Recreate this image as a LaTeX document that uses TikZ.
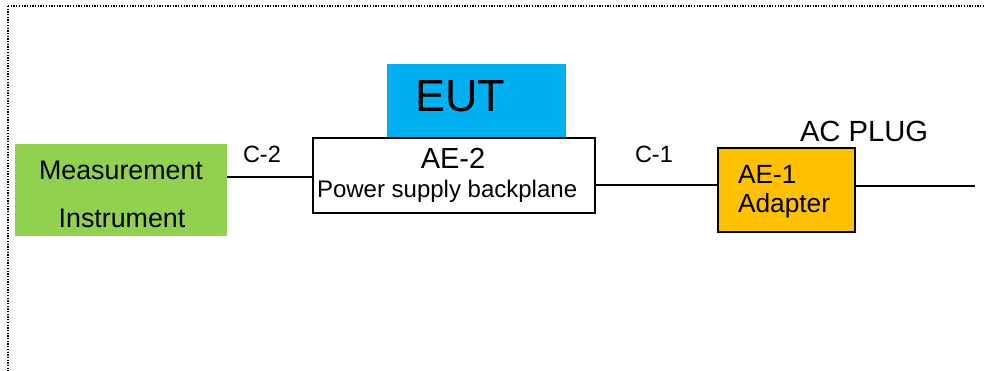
\documentclass[tikz,border=0pt]{standalone}
\usepackage{fontspec}
\setmainfont{Liberation Sans}
\definecolor{instgreen}{HTML}{92D050}
\definecolor{eutblue}{HTML}{00B0F0}
\definecolor{adapterorange}{HTML}{FFC000}
\tikzset{
  frameline/.style={line width=1.4pt, dash pattern=on 1.3pt off 1.4pt, black},
  block/.style={inner sep=0pt, outer sep=0pt, anchor=north west},
  outlined/.style={block, draw=black, line width=1.3pt},
  wire/.style={line width=1.4pt, black},
  txt/.style={inner sep=0pt, outer sep=0pt, anchor=base west},
  ctxt/.style={inner sep=0pt, outer sep=0pt, anchor=base},
}
\newcommand{\fs}[1]{\fontsize{#1}{#1}\selectfont}
\begin{document}
\begin{tikzpicture}[x=1pt,y=-1pt]
  \clip (0,0) rectangle (984,371);
  \fill[white] (0,0) rectangle (984,371);

  % dotted enclosure (extends beyond the page)
  \draw[frameline] (8,6) -- (1010,6);
  \draw[frameline] (8,6) -- (8,400);

  % blocks
  \node[block, fill=instgreen, minimum width=212pt, minimum height=92pt] (meas) at (15,144) {};
  \node[block, fill=eutblue, minimum width=179pt, minimum height=74pt] (eut) at (387,64) {};
  \node[outlined, fill=white, minimum width=282pt, minimum height=75pt] (ae2) at (313,138) {};
  \node[outlined, fill=adapterorange, minimum width=137pt, minimum height=84pt] (ae1) at (718,148) {};

  % block texts
  \node[ctxt, font=\fs{26.8}] (measA) at (121,180) {Measurement};
  \node[ctxt, font=\fs{26.8}] (measB) at (122,228) {Instrument};
  \node[txt, font=\fs{45}] (eutT) at (415,112) {EUT};
  \node[ctxt, font=\fs{29}] (ae2A) at (453,169) {AE-2};
  \node[txt, font=\fs{24}] (ae2B) at (317,198) {Power supply backplane};
  \node[txt, font=\fs{26.3}] (ae1A) at (738,184) {AE-1};
  \node[txt, font=\fs{26.3}] (ae1B) at (738,213) {Adapter};
  \node[txt, font=\fs{29.2}] (plug) at (800,142) {AC PLUG};

  % cables
  \coordinate (plugend) at (975,186);
  \draw[wire] ([yshift=13pt]meas.east) -- ([yshift=13pt]meas.east -| ae2.west);
  \draw[wire] ([yshift=-9.5pt]ae2.east) -- ([yshift=-9.5pt]ae2.east -| ae1.west);
  \draw[wire] ([yshift=4pt]ae1.east) -- (plugend);

  % cable labels
  \node[txt, font=\fs{23.5}] (c2) at (243,163) {C-2};
  \node[txt, font=\fs{23.5}] (c1) at (635,163) {C-1};
\end{tikzpicture}
\end{document}
